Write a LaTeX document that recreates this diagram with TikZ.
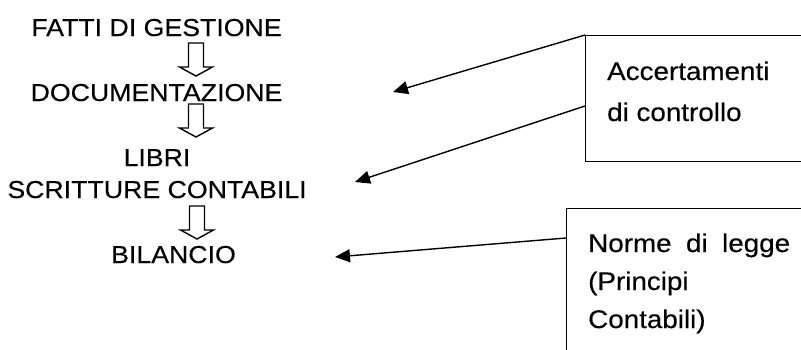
\documentclass[tikz,border=0pt]{standalone}
\usepackage{fontspec}
\setmainfont{Liberation Sans}[FakeStretch=1.09, FakeBold=0.3]
\usetikzlibrary{arrows.meta}

\tikzset{
  flowtext/.style={anchor=base, inner sep=0pt, font=\fontsize{24.5}{29}\selectfont},
  boxtext/.style={anchor=base west, inner sep=0pt, font=\fontsize{25.5}{30}\selectfont},
  framebox/.style={draw, line width=1.4pt, anchor=north west, inner sep=0pt},
  pointer/.style={line width=1.4pt, -{Triangle[length=15pt, width=13pt]}},
  hollowdown/.pic={
    \draw[line width=1.4pt, fill=white, line join=miter]
      (-7.5,0) -- (-7.5,24) -- (-16.5,24) -- (0,33) -- (16.5,24) -- (7.5,24) -- (7.5,0) -- cycle;
  }
}

\begin{document}
\begin{tikzpicture}[x=1pt, y=-1pt]
  \useasboundingbox (0,0) rectangle (801,349);

  % chain of accounting stages
  \node[flowtext] (fatti)     at (156.5,36)  {FATTI DI GESTIONE};
  \node[flowtext] (doc)       at (156.5,101) {DOCUMENTAZIONE};
  \node[flowtext] (libri)     at (157,166)   {LIBRI};
  \node[flowtext] (scritture) at (157,198)   {SCRITTURE CONTABILI};
  \node[flowtext] (bilancio)  at (173.5,263) {BILANCIO};

  % hollow block arrows between stages
  \pic at (196,43)  {hollowdown};
  \pic at (196,104) {hollowdown};
  \pic at (197,206) {hollowdown};

  % side boxes
  \node[framebox, minimum width=230pt, minimum height=126pt] (acc) at (585,35) {};
  \node[boxtext] (acc1) at (607,80)  {Accertamenti};
  \node[boxtext] (acc2) at (607,121) {di controllo};

  \node[framebox, minimum width=250pt, minimum height=160pt] (norme) at (566,208) {};
  \node[boxtext] (nor1) at (588,252) {\makebox[202pt][s]{Norme di legge}};
  \node[boxtext] (nor2) at (588,290) {(Principi};
  \node[boxtext] (nor3) at (588,328) {Contabili)};

  % pointers from the boxes into the chain
  \coordinate (t1) at (393,92);
  \coordinate (s2) at (585,106);
  \coordinate (t2) at (355,182);
  \coordinate (s3) at (566,238);
  \coordinate (t3) at (335,257);

  \draw[pointer] (acc.north west) -- (t1);
  \draw[pointer] (s2) -- (t2);
  \draw[pointer] (s3) -- (t3);
\end{tikzpicture}
\end{document}
